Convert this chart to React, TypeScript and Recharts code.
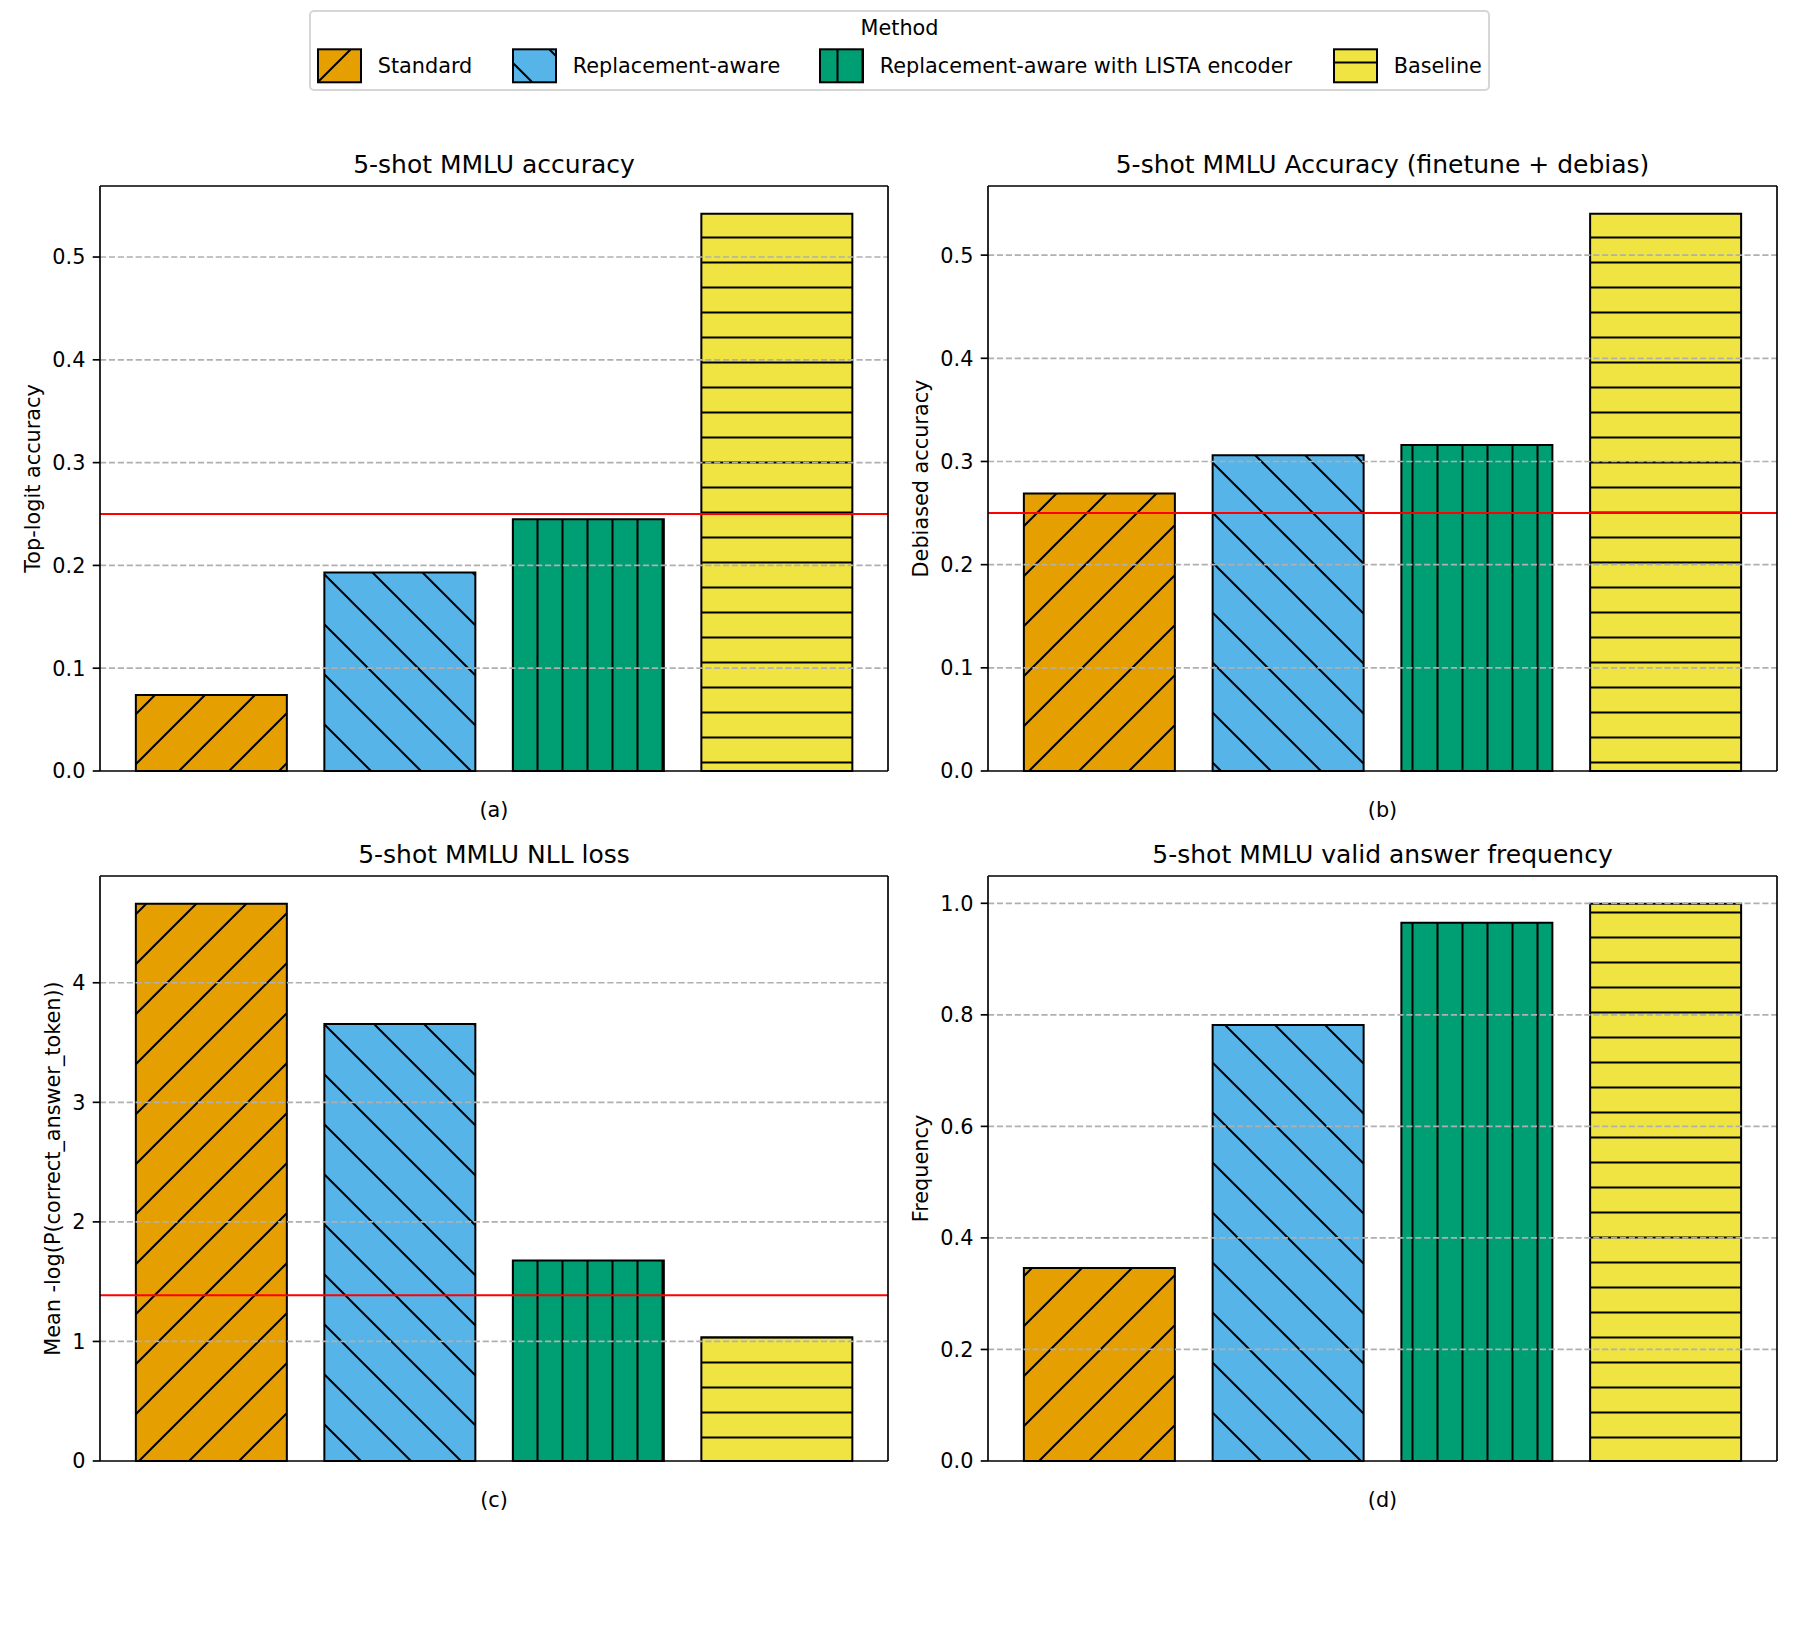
import React from "react";
import { Bar, BarChart, Cell, ReferenceLine, XAxis, YAxis } from "recharts";

const FONT = "'DejaVu Sans', sans-serif";

const methods = ["Standard", "Replacement-aware", "Replacement-aware with LISTA encoder", "Baseline"];
const methodColors = ["#E69F00", "#56B4E9", "#009E73", "#F0E442"];

// values
const topLogitAccuracy = [0.074, 0.193, 0.245, 0.542];
const debiasedAccuracy = [0.269, 0.306, 0.316, 0.54];
const nllLoss = [4.66, 3.656, 1.678, 1.035];
const validAnswerFrequency = [0.346, 0.782, 0.965, 0.999];

const accuracyTicks = [0, 0.1, 0.2, 0.3, 0.4, 0.5];
const nllTicks = [0, 1, 2, 3, 4];
const frequencyTicks = [0, 0.2, 0.4, 0.6, 0.8, 1.0];

const chanceAccuracy = 0.25;
const chanceNll = 1.386;

// hatch tiles, phased so that every svg placed on a 50px grid lines up
const hatchTiles = [
  { size: 50, d: "M-5,55 L55,-5 M-5,5 L5,-5 M45,55 L55,45" }, // "/"
  { size: 50, d: "M-5,-5 L55,55 M45,-5 L55,5 M-5,45 L5,55" }, // "\"
  { size: 25, d: "M12.5,-1 L12.5,26" }, // "|"
  { size: 25, d: "M-1,12.5 L26,12.5" }, // "-"
];

const SPINE = { stroke: "#000", strokeWidth: 1.67 };

function hatchDefs(prefix: string) {
  return (
    <defs>
      {methods.map((m, i) => (
        <pattern
          key={m}
          id={`${prefix}-hatch-${i}`}
          patternUnits="userSpaceOnUse"
          width={hatchTiles[i].size}
          height={hatchTiles[i].size}
        >
          <rect width={hatchTiles[i].size} height={hatchTiles[i].size} fill={methodColors[i]} />
          <path d={hatchTiles[i].d} stroke="#000" strokeWidth={2} fill="none" />
        </pattern>
      ))}
    </defs>
  );
}

type PanelProps = {
  id: string;
  title: string;
  yLabel: string;
  subLabel: string;
  values: number[];
  ticks: number[];
  decimals: number;
  chance?: number;
  left: number;
  top: number;
  height: number;
  margin: { top: number; right: number; bottom: number; left: number };
  yLabelGap: number;
};

function Panel(p: PanelProps) {
  const data = methods.map((m, i) => ({ method: m, value: p.values[i] }));
  const yMax = Math.max(...p.values) * 1.05;

  const titleContent = (props: any) => {
    const vb = props.viewBox || {};
    const x = (vb.x ?? 0) + (vb.width ?? 0) / 2;
    const y = (vb.y ?? 0) + (vb.height ?? 0) - 12.7;
    return (
      <text x={x} y={y} textAnchor="middle" fontFamily={FONT} fontSize={25} fill="#000">
        {p.title}
      </text>
    );
  };

  const subLabelContent = (props: any) => {
    const vb = props.viewBox || {};
    const x = (vb.x ?? 0) + (vb.width ?? 0) / 2;
    const y = (vb.y ?? 0) + 45.5;
    return (
      <text x={x} y={y} textAnchor="middle" fontFamily={FONT} fontSize={20.8} fill="#000">
        {p.subLabel}
      </text>
    );
  };

  const yLabelContent = (props: any) => {
    const vb = props.viewBox || {};
    const x = (vb.x ?? 0) + (vb.width ?? 0) - p.yLabelGap;
    const y = (vb.y ?? 0) + (vb.height ?? 0) / 2;
    return (
      <text
        x={x}
        y={y}
        transform={`rotate(-90 ${x} ${y})`}
        textAnchor="middle"
        fontFamily={FONT}
        fontSize={20.8}
        fill="#000"
      >
        {p.yLabel}
      </text>
    );
  };

  return (
    <div style={{ position: "absolute", left: p.left, top: p.top }}>
      <BarChart width={900} height={p.height} data={data} margin={p.margin} barCategoryGap="10%">
        {hatchDefs(p.id)}
        <XAxis
          xAxisId="bottom"
          dataKey="method"
          type="category"
          height={60}
          padding={{ left: 17, right: 17 }}
          tick={false}
          tickLine={false}
          axisLine={SPINE}
          label={subLabelContent}
        />
        <XAxis
          xAxisId="top"
          orientation="top"
          dataKey="method"
          type="category"
          height={30}
          tick={false}
          tickLine={false}
          axisLine={SPINE}
          label={titleContent}
        />
        <YAxis
          yAxisId="left"
          type="number"
          domain={[0, yMax]}
          ticks={p.ticks}
          interval={0}
          width={80}
          tickSize={7.3}
          tickMargin={7.3}
          axisLine={SPINE}
          tickLine={SPINE}
          tick={{ fill: "#000", fontSize: 20.8, fontFamily: FONT }}
          tickFormatter={(v: number) => v.toFixed(p.decimals)}
          label={yLabelContent}
        />
        <YAxis
          yAxisId="right"
          orientation="right"
          type="number"
          domain={[0, yMax]}
          width={4}
          tick={false}
          tickLine={false}
          axisLine={SPINE}
        />
        <Bar
          dataKey="value"
          xAxisId="bottom"
          yAxisId="left"
          stroke="#000"
          strokeWidth={2}
          isAnimationActive={false}
        >
          {data.map((d, i) => (
            <Cell key={d.method} fill={`url(#${p.id}-hatch-${i})`} stroke="#000" strokeWidth={2} />
          ))}
        </Bar>
        {p.ticks
          .filter((t) => t > 0)
          .map((t) => (
            <ReferenceLine
              key={t}
              xAxisId="bottom"
              yAxisId="left"
              y={t}
              stroke="#b0b0b0"
              strokeWidth={1.67}
              strokeDasharray="6.2 2.7"
            />
          ))}
        {p.chance !== undefined && (
          <ReferenceLine xAxisId="bottom" yAxisId="left" y={p.chance} stroke="#ff0000" strokeWidth={2} />
        )}
      </BarChart>
    </div>
  );
}

// legend patch x positions (figure pixels)
const legendPatchX = [318, 513, 820, 1334];

function MethodLegend() {
  return (
    <svg width={1800} height={100} style={{ position: "absolute", left: 0, top: 0 }}>
      {hatchDefs("legend")}
      <rect x={310} y={11} width={1179} height={79} rx={4} fill="#fff" stroke="#d6d6d6" strokeWidth={2} />
      <text x={899.5} y={34.5} textAnchor="middle" fontFamily={FONT} fontSize={20.8} fill="#000">
        Method
      </text>
      {methods.map((m, i) => (
        <g key={m}>
          <rect
            x={legendPatchX[i]}
            y={49.3}
            width={43}
            height={33}
            fill={`url(#legend-hatch-${i})`}
            stroke="#000"
            strokeWidth={2}
          />
          <text x={legendPatchX[i] + 59.7} y={73.3} fontFamily={FONT} fontSize={20.8} fill="#000">
            {m}
          </text>
        </g>
      ))}
    </svg>
  );
}

export default function App() {
  return (
    <div style={{ position: "absolute", left: 0, top: 0, width: 1800, height: 1650, background: "#fff" }}>
      <MethodLegend />
      <Panel
        id="a"
        title="5-shot MMLU accuracy"
        yLabel="Top-logit accuracy"
        subLabel="(a)"
        values={topLogitAccuracy}
        ticks={accuracyTicks}
        decimals={1}
        chance={chanceAccuracy}
        left={0}
        top={150}
        height={700}
        margin={{ top: 6, right: 8, bottom: 19, left: 20 }}
        yLabelGap={60}
      />
      <Panel
        id="b"
        title="5-shot MMLU Accuracy (finetune + debias)"
        yLabel="Debiased accuracy"
        subLabel="(b)"
        values={debiasedAccuracy}
        ticks={accuracyTicks}
        decimals={1}
        chance={chanceAccuracy}
        left={900}
        top={150}
        height={700}
        margin={{ top: 6, right: 19, bottom: 19, left: 8 }}
        yLabelGap={60}
      />
      <Panel
        id="c"
        title="5-shot MMLU NLL loss"
        yLabel="Mean -log(P(correct_answer_token))"
        subLabel="(c)"
        values={nllLoss}
        ticks={nllTicks}
        decimals={0}
        chance={chanceNll}
        left={0}
        top={800}
        height={750}
        margin={{ top: 46, right: 8, bottom: 29, left: 20 }}
        yLabelGap={40}
      />
      <Panel
        id="d"
        title="5-shot MMLU valid answer frequency"
        yLabel="Frequency"
        subLabel="(d)"
        values={validAnswerFrequency}
        ticks={frequencyTicks}
        decimals={1}
        left={900}
        top={800}
        height={750}
        margin={{ top: 46, right: 19, bottom: 29, left: 8 }}
        yLabelGap={60}
      />
    </div>
  );
}
